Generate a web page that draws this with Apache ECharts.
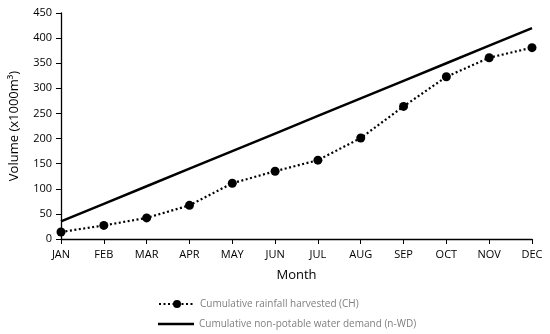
<!DOCTYPE html>
<html><head><meta charset="utf-8">
<script src="https://cdn.jsdelivr.net/npm/echarts@6/dist/echarts.min.js"></script>
<style>html,body{margin:0;padding:0;background:#fff}#c{width:550px;height:334px}</style>
</head><body><div id="c"></div>
<script>
const months = ['JAN','FEB','MAR','APR','MAY','JUN','JUL','AUG','SEP','OCT','NOV','DEC'];
const harvested = [14, 27, 42, 67, 111, 135, 157, 201, 264, 323, 361, 381];
const demand = [35, 70, 105, 140, 175, 210, 245, 280, 315, 350, 385, 420];
const yTicks = [0, 50, 100, 150, 200, 250, 300, 350, 400, 450];
const FONT = '"Open Sans", "Liberation Sans", sans-serif';
const nameCH = 'Cumulative rainfall harvested (CH)';
const nameWD = 'Cumulative non-potable water demand (n-WD)';
const chart = echarts.init(document.getElementById('c'));
chart.setOption({
  animation: false,
  grid: {left: 57, right: 18, top: 13, bottom: 95},
  xAxis: {
    type: 'category', data: months, boundaryGap: false,
    name: 'Month', nameLocation: 'middle', nameGap: 30,
    nameTextStyle: {fontFamily: FONT, fontSize: 13, color: '#000'},
    axisLine: {lineStyle: {color: '#000', width: 1.3}},
    axisTick: {show: true, length: 5, lineStyle: {color: '#000'}},
    axisLabel: {fontFamily: FONT, fontSize: 11, color: '#000', margin: 10},
    splitLine: {show: false}
  },
  yAxis: {
    type: 'value', min: yTicks[0], max: yTicks[yTicks.length-1], interval: 50,
    name: 'Volume (x1000m³)', nameLocation: 'middle', nameGap: 40,
    nameTextStyle: {fontFamily: FONT, fontSize: 13, color: '#000'},
    axisLine: {show: true, lineStyle: {color: '#000', width: 1.3}},
    axisTick: {show: true, length: 5, lineStyle: {color: '#000'}},
    axisLabel: {fontFamily: FONT, fontSize: 11, color: '#000', margin: 9},
    splitLine: {show: false}
  },
  legend: [
    {
      left: 153, top: 294, itemGap: 8,
      itemWidth: 36, itemHeight: 10,
      textStyle: {fontFamily: FONT, fontSize: 10, color: '#808080'},
      data: [nameCH]
    },
    {
      left: 153, top: 314, itemGap: 8,
      itemWidth: 36, itemHeight: 2.5,
      textStyle: {fontFamily: FONT, fontSize: 10, color: '#808080'},
      data: [{name: nameWD, icon: 'rect'}]
    }
  ],
  series: [
    {
      name: nameCH, type: 'line', data: harvested,
      symbol: 'circle', symbolSize: 9,
      itemStyle: {color: '#000'},
      lineStyle: {color: '#000', width: 2.2, type: [2, 2.5]}
    },
    {
      name: nameWD, type: 'line', data: demand,
      symbol: 'none',
      itemStyle: {color: '#000'},
      lineStyle: {color: '#000', width: 2.5}
    }
  ]
});
</script></body></html>
